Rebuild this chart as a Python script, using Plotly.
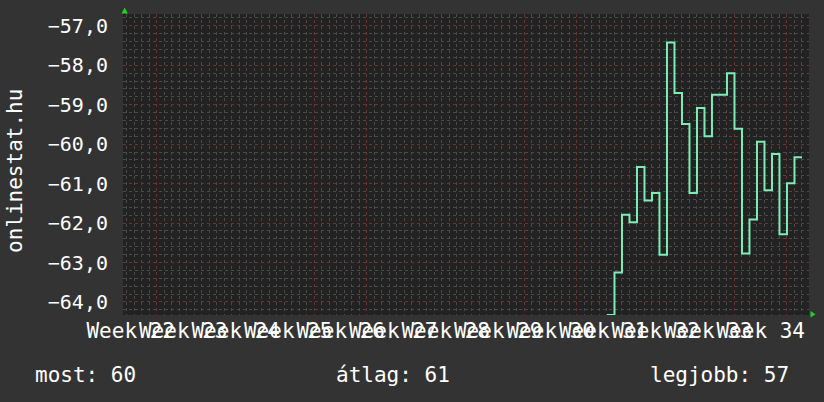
import plotly.graph_objects as go

# daily values (dBm-like), first day of data is day 60 after the first Monday grid line
start_day = 60
values = [-64.33, -63.25, -61.79, -61.98, -60.58, -61.43, -61.24, -62.80,
          -57.42, -58.70, -59.49, -61.24, -59.08, -59.80, -58.75, -58.75,
          -58.20, -59.61, -62.77, -61.91, -59.94, -61.17, -60.25, -62.28,
          -60.99, -60.33]
weeks = [22, 23, 24, 25, 26, 27, 28, 29, 30, 31, 32, 33, 34]
y_ticks = [-64, -63, -62, -61, -60, -59, -58, -57]
legend_texts = ['most: 60', 'átlag: 61', 'legjobb: 57']

x = [start_day + i for i in range(len(values) + 1)]
y = values + [values[-1]]

BG = '#333333'
PLOT_BG = '#222222'
GRID_MAJOR = '#6e3232'
GRID_MINOR = '#4a4a4a'
LINE = '#7cedb4'
ARROW = '#1ed41e'
FONT = 'DejaVu Sans Mono'

W, H = 824, 402
L, R, T, B = 123, 15, 14, 87
pw, ph = W - L - R, H - T - B


def px(xp, yp):
    # pixel position -> paper coordinates
    return (xp - L) / pw, (H - B - yp) / ph


def tri(points):
    pts = [px(a, b) for a, b in points]
    return 'M {} {} L {} {} L {} {} Z'.format(*[v for p in pts for v in p])


fig = go.Figure()
fig.add_trace(go.Scatter(
    x=x, y=y, mode='lines', line_shape='hv',
    line=dict(color=LINE, width=2), hoverinfo='skip', showlegend=False
))
# invisible trace to carry the week labels axis
fig.add_trace(go.Scatter(x=[x[0]], y=[y[0]], xaxis='x2', mode='markers',
                         marker=dict(opacity=0), hoverinfo='skip', showlegend=False))

xr = [-4.53, -4.53 + pw / 7.5]

fig.update_layout(
    width=W, height=H, autosize=False,
    margin=dict(l=L, r=R, t=T, b=B, pad=0, autoexpand=False),
    paper_bgcolor=BG, plot_bgcolor=PLOT_BG,
    separators=',.',
    font=dict(family=FONT, color='white', size=21),
    xaxis=dict(
        range=xr, tick0=0, dtick=7, showticklabels=False, ticks='',
        showgrid=True, gridcolor=GRID_MAJOR, griddash='dot', gridwidth=1,
        minor=dict(dtick=1, tick0=0, showgrid=True, gridcolor=GRID_MINOR,
                   griddash='dot', gridwidth=1),
        zeroline=False, showline=False, automargin=False
    ),
    xaxis2=dict(
        range=xr, overlaying='x', side='bottom', anchor='y',
        tickmode='array', tickvals=[-3.5 + 7 * i for i in range(len(weeks))],
        ticktext=[f'Week {w}' for w in weeks], showgrid=False, ticks='',
        tickangle=0, automargin=False,
        tickfont=dict(size=21, color='white', family=FONT),
        ticklabelstandoff=1, zeroline=False, showline=False
    ),
    yaxis=dict(
        range=[-64.33, -56.70], tickmode='array', tickvals=y_ticks,
        tickformat='.1f', ticks='', ticklabelstandoff=14, automargin=False,
        tickfont=dict(size=20, color='white', family=FONT),
        showgrid=True, gridcolor=GRID_MAJOR, griddash='dot', gridwidth=1,
        minor=dict(dtick=0.2, tick0=-57, showgrid=True, gridcolor=GRID_MINOR,
                   griddash='dot', gridwidth=1),
        zeroline=False, showline=False
    ),
    shapes=[
        dict(type='path', xref='paper', yref='paper', line_width=0, fillcolor=ARROW,
             path=tri([(124.7, 7.5), (121.5, 13.5), (127.9, 13.5)])),
        dict(type='path', xref='paper', yref='paper', line_width=0, fillcolor=ARROW,
             path=tri([(815.5, 314.3), (810.5, 311), (810.5, 317.6)])),
    ],
)

ax, ay = px(15, 171)
fig.add_annotation(text='onlinestat.hu', xref='paper', yref='paper', x=ax, y=ay,
                   textangle=-90, showarrow=False, xanchor='center', yanchor='middle',
                   font=dict(size=21, color='white', family=FONT))

for txt, xp, anchor in zip(legend_texts, [33, 334, 791], ['left', 'left', 'right']):
    lx, ly = px(xp, 375)
    fig.add_annotation(text=txt, xref='paper', yref='paper', x=lx, y=ly,
                       showarrow=False, xanchor=anchor, yanchor='middle',
                       font=dict(size=21, color='white', family=FONT))

fig.write_html('out.html', config={'displayModeBar': False},
               post_script="document.body.style.margin='0';"
                           "document.body.style.overflow='hidden';")
